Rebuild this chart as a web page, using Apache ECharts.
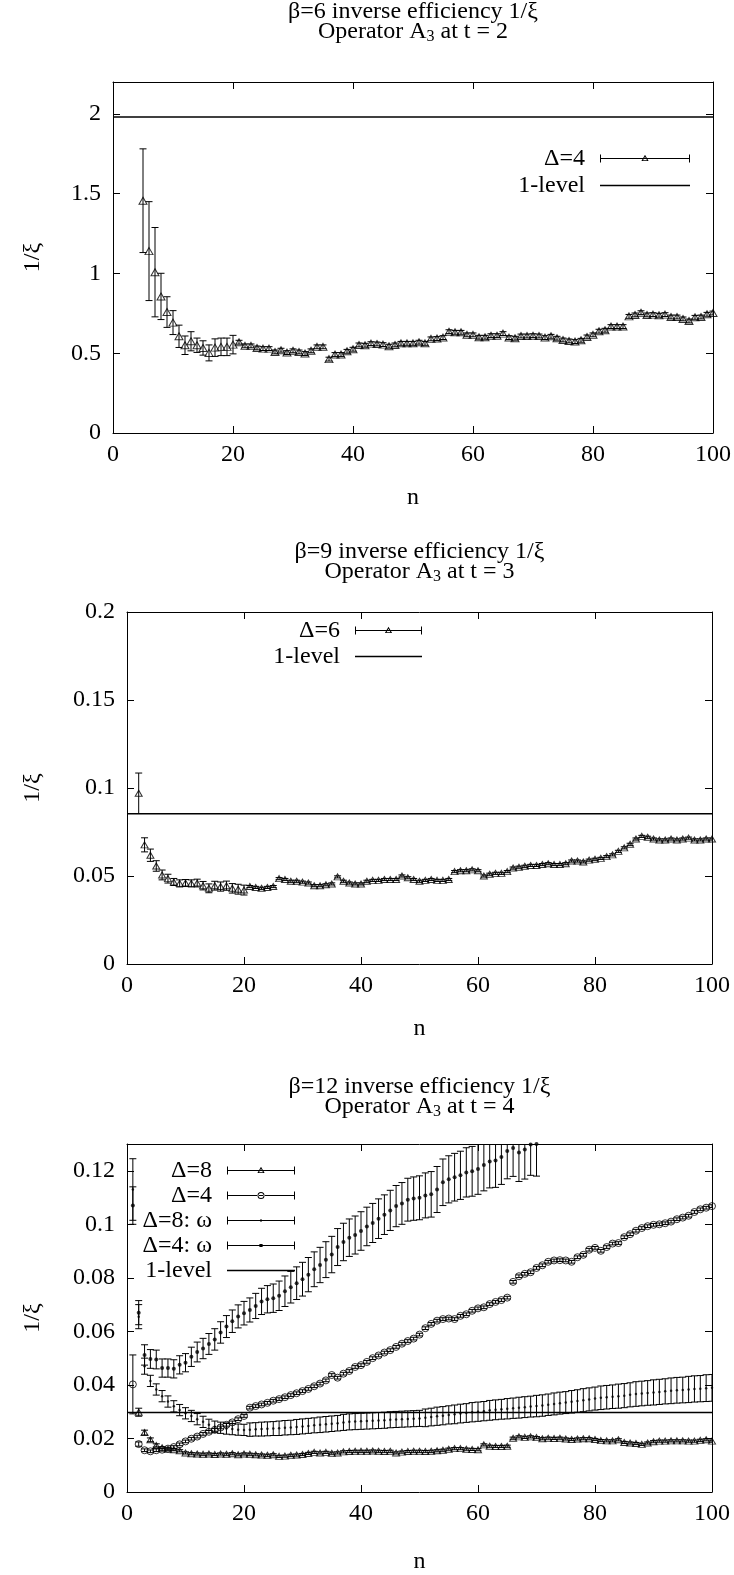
<!DOCTYPE html>
<html>
<head>
<meta charset="utf-8">
<script src="https://cdn.jsdelivr.net/npm/echarts@6/dist/echarts.min.js"></script>
<style>
  html, body { margin: 0; padding: 0; background: #fff; }
  #main { width: 734px; height: 1575px; }
</style>
</head>
<body>
<div id="main"></div>
<script>
const FONT = 'Liberation Serif';

// x axis (n) is the same on all three panels
const nMin = 0, nMax = 100, nStep = 20;

// ---- panel 1: beta=6, Delta=4, n = 5..100
const p1Start = 5;
const p1Vals = [1.456, 1.14, 1.008, 0.856, 0.758, 0.692, 0.606, 0.55, 0.575, 0.55,
  0.533, 0.502, 0.535, 0.54, 0.54, 0.554, 0.569, 0.546, 0.546, 0.533,
  0.529, 0.529, 0.508, 0.519, 0.504, 0.515, 0.508, 0.498, 0.515, 0.54,
  0.54, 0.463, 0.492, 0.492, 0.512, 0.525, 0.552, 0.55, 0.56, 0.558,
  0.554, 0.544, 0.552, 0.562, 0.562, 0.562, 0.569, 0.562, 0.59, 0.592,
  0.598, 0.635, 0.631, 0.631, 0.615, 0.615, 0.6, 0.6, 0.61, 0.61,
  0.623, 0.598, 0.594, 0.608, 0.608, 0.61, 0.608, 0.598, 0.606, 0.594,
  0.583, 0.577, 0.573, 0.581, 0.602, 0.615, 0.638, 0.644, 0.667, 0.667,
  0.667, 0.731, 0.74, 0.754, 0.74, 0.742, 0.738, 0.742, 0.727, 0.727,
  0.715, 0.702, 0.725, 0.727, 0.744, 0.752];
const p1Errs = [0.325, 0.31, 0.28, 0.145, 0.096, 0.075, 0.07, 0.058, 0.06, 0.045,
  0.045, 0.05, 0.055, 0.055, 0.055, 0.058, 0.012, 0.012, 0.012, 0.012,
  0.012, 0.012, 0.012, 0.012, 0.012, 0.012, 0.012, 0.012, 0.012, 0.012,
  0.012, 0.012, 0.012, 0.012, 0.012, 0.012, 0.012, 0.012, 0.012, 0.012,
  0.012, 0.012, 0.012, 0.012, 0.012, 0.012, 0.012, 0.012, 0.012, 0.012,
  0.012, 0.012, 0.012, 0.012, 0.012, 0.012, 0.012, 0.012, 0.012, 0.012,
  0.012, 0.012, 0.012, 0.012, 0.012, 0.012, 0.012, 0.012, 0.012, 0.012,
  0.012, 0.012, 0.012, 0.012, 0.012, 0.012, 0.012, 0.012, 0.012, 0.012,
  0.012, 0.012, 0.012, 0.012, 0.012, 0.012, 0.012, 0.012, 0.012, 0.012,
  0.012, 0.012, 0.012, 0.012, 0.012, 0.012];
const p1Level = 1.98;

// ---- panel 2: beta=9, Delta=6, n = 2..100
const p2Start = 2;
const p2Vals = [0.097, 0.0677, 0.0618, 0.0557, 0.0506, 0.0485, 0.0466, 0.0458, 0.046, 0.0458,
  0.046, 0.0445, 0.043, 0.0445, 0.044, 0.0445, 0.043, 0.0425, 0.042, 0.044,
  0.0435, 0.043, 0.0435, 0.044, 0.0485, 0.048, 0.047, 0.047, 0.0465, 0.046,
  0.0445, 0.0445, 0.045, 0.0455, 0.0495, 0.047, 0.046, 0.0455, 0.0455, 0.047,
  0.0475, 0.0475, 0.048, 0.048, 0.048, 0.05, 0.049, 0.048, 0.047, 0.0475,
  0.048, 0.0475, 0.0475, 0.048, 0.0525, 0.053, 0.053, 0.0535, 0.053, 0.05,
  0.051, 0.0515, 0.0515, 0.0525, 0.0545, 0.055, 0.0555, 0.056, 0.056, 0.0565,
  0.057, 0.0565, 0.0565, 0.057, 0.0585, 0.0585, 0.058, 0.059, 0.0595, 0.06,
  0.061, 0.062, 0.064, 0.066, 0.068, 0.071, 0.0725, 0.072, 0.071, 0.0705,
  0.0705, 0.071, 0.0705, 0.071, 0.0715, 0.0705, 0.0705, 0.071, 0.071];
const p2Errs = [0.0115, 0.004, 0.0035, 0.003, 0.0028, 0.0025, 0.002, 0.002, 0.002, 0.002,
  0.0022, 0.0024, 0.0025, 0.0025, 0.0026, 0.0026, 0.0027, 0.0028, 0.0028, 0.0006,
  0.0006, 0.0006, 0.0006, 0.0006, 0.0006, 0.0006, 0.0006, 0.0006, 0.0006, 0.0006,
  0.0006, 0.0006, 0.0006, 0.0006, 0.0006, 0.0006, 0.0006, 0.0006, 0.0006, 0.0006,
  0.0006, 0.0006, 0.0006, 0.0006, 0.0006, 0.0006, 0.0006, 0.0006, 0.0006, 0.0006,
  0.0006, 0.0006, 0.0006, 0.0006, 0.0006, 0.0006, 0.0006, 0.0006, 0.0006, 0.0006,
  0.0006, 0.0006, 0.0006, 0.0006, 0.0006, 0.0006, 0.0006, 0.0006, 0.0006, 0.0006,
  0.0006, 0.0006, 0.0006, 0.0006, 0.0006, 0.0006, 0.0006, 0.0006, 0.0006, 0.0006,
  0.0006, 0.0006, 0.0006, 0.0006, 0.0006, 0.0006, 0.0006, 0.0006, 0.0006, 0.0006,
  0.0006, 0.0006, 0.0006, 0.0006, 0.0006, 0.0006, 0.0006, 0.0006, 0.0006];
const p2Level = 0.0853;

// ---- panel 3: beta=12
// Delta=8, n = 2..100
const d8Start = 2;
const d8Vals = [0.0298, 0.0222, 0.0195, 0.0174, 0.0165, 0.016, 0.0158, 0.0154, 0.0146, 0.0143,
  0.0142, 0.0141, 0.0142, 0.014, 0.0142, 0.0141, 0.0143, 0.0139, 0.0142, 0.0141,
  0.0139, 0.0138, 0.0137, 0.0139, 0.0133, 0.0134, 0.0137, 0.0138, 0.014, 0.0144,
  0.0148, 0.0146, 0.0148, 0.0145, 0.0146, 0.015, 0.0151, 0.0152, 0.0152, 0.0152,
  0.0153, 0.0152, 0.0151, 0.0152, 0.0146, 0.0149, 0.0151, 0.0152, 0.0152, 0.0151,
  0.0152, 0.0154, 0.0156, 0.016, 0.0162, 0.0162, 0.016, 0.0159, 0.0158, 0.0176,
  0.0171, 0.017, 0.017, 0.0171, 0.0201, 0.0206, 0.0204, 0.0206, 0.0203, 0.0199,
  0.0201, 0.02, 0.0201, 0.0198, 0.0196, 0.0198, 0.0199, 0.0199, 0.0196, 0.0192,
  0.0191, 0.0191, 0.0195, 0.0185, 0.0183, 0.0181, 0.0178, 0.0183, 0.0188, 0.019,
  0.019, 0.0191, 0.0191, 0.0191, 0.019, 0.019, 0.0193, 0.0195, 0.019];
const d8Errs = [0.0015, 0.0009, 0.0007, 0.0006, 0.0004, 0.0004, 0.0004, 0.0004, 0.0004, 0.0004,
  0.0004, 0.0004, 0.0004, 0.0004, 0.0004, 0.0004, 0.0004, 0.0004, 0.0004, 0.0004,
  0.0004, 0.0004, 0.0004, 0.0004, 0.0004, 0.0004, 0.0004, 0.0004, 0.0004, 0.0004,
  0.0004, 0.0004, 0.0004, 0.0004, 0.0004, 0.0004, 0.0004, 0.0004, 0.0004, 0.0004,
  0.0004, 0.0004, 0.0004, 0.0004, 0.0004, 0.0004, 0.0004, 0.0004, 0.0004, 0.0004,
  0.0004, 0.0004, 0.0004, 0.0004, 0.0004, 0.0004, 0.0004, 0.0004, 0.0004, 0.0004,
  0.0004, 0.0004, 0.0004, 0.0004, 0.0004, 0.0004, 0.0004, 0.0004, 0.0004, 0.0004,
  0.0004, 0.0004, 0.0004, 0.0004, 0.0004, 0.0004, 0.0004, 0.0004, 0.0004, 0.0004,
  0.0004, 0.0004, 0.0004, 0.0004, 0.0004, 0.0004, 0.0004, 0.0004, 0.0004, 0.0004,
  0.0004, 0.0004, 0.0004, 0.0004, 0.0004, 0.0004, 0.0004, 0.0004, 0.0004];
// Delta=4, n = 1..100
const d4Start = 1;
const d4Vals = [0.0402, 0.0179, 0.0156, 0.0152, 0.0156, 0.0158, 0.0162, 0.0168, 0.0178, 0.0189,
  0.0199, 0.0207, 0.0217, 0.0225, 0.0232, 0.0241, 0.0251, 0.026, 0.0272, 0.0284,
  0.0315, 0.0321, 0.0327, 0.0333, 0.0341, 0.0347, 0.0354, 0.0362, 0.0369, 0.0377,
  0.0385, 0.0395, 0.0405, 0.0417, 0.0437, 0.0427, 0.0442, 0.0452, 0.0467, 0.0474,
  0.0486, 0.05, 0.051, 0.0521, 0.053, 0.0542, 0.0554, 0.0564, 0.0573, 0.0588,
  0.0612, 0.0628, 0.064, 0.0646, 0.0648, 0.0646, 0.0658, 0.0664, 0.0677, 0.0686,
  0.069, 0.0702, 0.071, 0.0717, 0.0726, 0.0785, 0.0806, 0.0815, 0.0821, 0.0837,
  0.0847, 0.086, 0.0865, 0.0866, 0.0865, 0.086, 0.0877, 0.0886, 0.0905, 0.0912,
  0.0901, 0.0915, 0.0928, 0.093, 0.0952, 0.0963, 0.0976, 0.0986, 0.0993, 0.0998,
  0.1, 0.1004, 0.101, 0.1019, 0.1025, 0.1032, 0.1046, 0.1056, 0.1062, 0.1068];
const d4Errs = [0.011, 0.0008, 0.0005, 0.0005, 0.0005, 0.0005, 0.0005, 0.0005, 0.0005, 0.0005,
  0.0005, 0.0005, 0.0005, 0.0005, 0.0005, 0.0005, 0.0005, 0.0005, 0.0005, 0.0005,
  0.0005, 0.0005, 0.0005, 0.0005, 0.0005, 0.0005, 0.0005, 0.0005, 0.0005, 0.0005,
  0.0005, 0.0005, 0.0005, 0.0005, 0.0005, 0.0005, 0.0005, 0.0005, 0.0005, 0.0005,
  0.0005, 0.0005, 0.0005, 0.0005, 0.0005, 0.0005, 0.0005, 0.0005, 0.0005, 0.0005,
  0.0005, 0.0005, 0.0005, 0.0005, 0.0005, 0.0005, 0.0005, 0.0005, 0.0005, 0.0005,
  0.0005, 0.0005, 0.0005, 0.0005, 0.0005, 0.0005, 0.0005, 0.0005, 0.0005, 0.0005,
  0.0005, 0.0005, 0.0005, 0.0005, 0.0005, 0.0005, 0.0005, 0.0005, 0.0005, 0.0005,
  0.0005, 0.0005, 0.0005, 0.0005, 0.0005, 0.0005, 0.0005, 0.0005, 0.0005, 0.0005,
  0.0005, 0.0005, 0.0005, 0.0005, 0.0005, 0.0005, 0.0005, 0.0005, 0.0005, 0.0005];
// Delta=8: omega, n = 1..100
const w8Start = 1;
const w8Vals = [0.113, 0.0655, 0.047, 0.0415, 0.0383, 0.0358, 0.0338, 0.032, 0.0306, 0.0294,
  0.0284, 0.0272, 0.0262, 0.0251, 0.0244, 0.024, 0.0237, 0.0235, 0.0233, 0.0232,
  0.0233, 0.0234, 0.0235, 0.0236, 0.0237, 0.0238, 0.024, 0.0241, 0.0243, 0.0245,
  0.0247, 0.0249, 0.0251, 0.0253, 0.0255, 0.0257, 0.026, 0.0262, 0.0263, 0.0264,
  0.0265, 0.0266, 0.0267, 0.0268, 0.027, 0.0271, 0.0272, 0.0273, 0.0274, 0.0275,
  0.0277, 0.028, 0.0283, 0.0285, 0.0288, 0.029, 0.0293, 0.0295, 0.0298, 0.03,
  0.0302, 0.0305, 0.0307, 0.0309, 0.0311, 0.0313, 0.0315, 0.0317, 0.0319, 0.0321,
  0.0323, 0.0326, 0.0329, 0.0332, 0.0334, 0.0337, 0.034, 0.0343, 0.0346, 0.0349,
  0.0352, 0.0354, 0.0356, 0.0358, 0.036, 0.0363, 0.0366, 0.0368, 0.037, 0.0372,
  0.0374, 0.0376, 0.0378, 0.038, 0.0381, 0.0383, 0.0385, 0.0386, 0.0388, 0.0389];
const w8Errs = [0.0115, 0.0045, 0.003, 0.0021, 0.0021, 0.0021, 0.0021, 0.0021, 0.0021, 0.0021,
  0.0021, 0.0021, 0.0021, 0.0021, 0.0021, 0.0021, 0.0021, 0.0021, 0.0021, 0.0021,
  0.0025, 0.0025, 0.0026, 0.0026, 0.0026, 0.0027, 0.0027, 0.0027, 0.0028, 0.0028,
  0.0028, 0.0028, 0.0029, 0.0029, 0.0029, 0.0029, 0.003, 0.003, 0.003, 0.003,
  0.003, 0.003, 0.003, 0.003, 0.003, 0.003, 0.003, 0.003, 0.003, 0.003,
  0.0033, 0.0033, 0.0034, 0.0034, 0.0034, 0.0035, 0.0035, 0.0035, 0.0036, 0.0036,
  0.0036, 0.0037, 0.0037, 0.0037, 0.0038, 0.0038, 0.0039, 0.0039, 0.0039, 0.004,
  0.004, 0.004, 0.0041, 0.0041, 0.0041, 0.0042, 0.0042, 0.0043, 0.0043, 0.0043,
  0.0044, 0.0044, 0.0044, 0.0045, 0.0045, 0.0045, 0.0046, 0.0046, 0.0046, 0.0047,
  0.0047, 0.0047, 0.0048, 0.0048, 0.0048, 0.0049, 0.0049, 0.0049, 0.005, 0.005];
// Delta=4: omega, n = 1..70
const w4Start = 1;
const w4Vals = [0.107, 0.067, 0.0512, 0.0497, 0.0495, 0.0463, 0.0463, 0.046, 0.0475, 0.0483,
  0.0505, 0.0523, 0.0536, 0.0553, 0.057, 0.0596, 0.0618, 0.0638, 0.0656, 0.0668,
  0.068, 0.0695, 0.0712, 0.072, 0.0724, 0.0733, 0.075, 0.0765, 0.078, 0.0795,
  0.0812, 0.0832, 0.0848, 0.0868, 0.0887, 0.0915, 0.0934, 0.095, 0.096, 0.0975,
  0.0992, 0.1005, 0.1021, 0.1036, 0.1052, 0.1068, 0.1078, 0.1092, 0.1096, 0.1099,
  0.1108, 0.1112, 0.113, 0.1157, 0.1168, 0.1176, 0.1183, 0.1194, 0.1198, 0.1207,
  0.1222, 0.1235, 0.1238, 0.1251, 0.1274, 0.1285, 0.1268, 0.1279, 0.1298, 0.13];
const w4Errs = [0.007, 0.0045, 0.0038, 0.0035, 0.0035, 0.0034, 0.0034, 0.0034, 0.0034, 0.0034,
  0.0036, 0.0037, 0.0038, 0.0039, 0.004, 0.004, 0.0041, 0.0042, 0.0043, 0.0044,
  0.0045, 0.0047, 0.0049, 0.0051, 0.0053, 0.0055, 0.0057, 0.0059, 0.0061, 0.0063,
  0.0064, 0.0065, 0.0066, 0.0067, 0.0068, 0.0069, 0.007, 0.007, 0.0071, 0.0072,
  0.0072, 0.0073, 0.0074, 0.0074, 0.0075, 0.0077, 0.0078, 0.008, 0.0081, 0.0082,
  0.0084, 0.0085, 0.0086, 0.0087, 0.0088, 0.0089, 0.009, 0.0092, 0.0093, 0.0095,
  0.0097, 0.0099, 0.01, 0.0102, 0.0104, 0.0106, 0.0108, 0.011, 0.0115, 0.012];
const p3Level = 0.0297;

// y ranges and tick steps: [min, max, step, show label at max]
const yRanges = [[0, 2.2, 0.5, false], [0, 0.2, 0.05, true], [0, 0.13, 0.02, false]];

const titles = [
  ['β=6 inverse efficiency 1/ξ', 'Operator A{s|3} at t = 2'],
  ['β=9 inverse efficiency 1/ξ', 'Operator A{s|3} at t = 3'],
  ['β=12 inverse efficiency 1/ξ', 'Operator A{s|3} at t = 4']
];

// ---------- layout ----------
const grids = [
  { left: 113, top: 82, width: 600, height: 351 },
  { left: 127, top: 612, width: 585, height: 352 },
  { left: 127, top: 1144, width: 585, height: 352 }
];
const titleTops = [2, 542, 1077];
const xNameGap = [53, 53, 58];
const yNameGap = [68, 82, 82];

const CAP = 3.5;

function pairs(start, vals, errs) {
  return vals.map((v, i) => [start + i, v, errs[i]]);
}

function errorBarItem(params, api) {
  const n = api.value(0), v = api.value(1), e = api.value(2);
  const hi = api.coord([n, v + e]);
  const lo = api.coord([n, v - e]);
  const st = { stroke: '#000', lineWidth: 1, fill: null };
  return {
    type: 'group',
    children: [
      { type: 'line', shape: { x1: hi[0], y1: hi[1], x2: lo[0], y2: lo[1] }, style: st },
      { type: 'line', shape: { x1: hi[0] - CAP, y1: hi[1], x2: hi[0] + CAP, y2: hi[1] }, style: st },
      { type: 'line', shape: { x1: lo[0] - CAP, y1: lo[1], x2: lo[0] + CAP, y2: lo[1] }, style: st }
    ]
  };
}

// legend sample: line with end caps and the point marker in the middle
function sampleIcon(w, kind) {
  if (kind === 'line') return 'path://M0 0H' + w + 'V1.5H0Z';
  const c = w / 2;
  let p = 'M0 3.5H' + w + 'V4.5H0Z M0 0H1V8H0Z M' + (w - 1) + ' 0H' + w + 'V8H' + (w - 1) + 'Z';
  if (kind === 'tri') {
    p += ' M' + c + ' 0.3L' + (c + 3.6) + ' 6.6L' + (c - 3.6) + ' 6.6Z';
    p += ' M' + c + ' 2.2L' + (c - 2.0) + ' 5.7L' + (c + 2.0) + ' 5.7Z';
  } else if (kind === 'circ') {
    p += ' M' + (c - 3.5) + ' 4A3.5 3.5 0 1 0 ' + (c + 3.5) + ' 4A3.5 3.5 0 1 0 ' + (c - 3.5) + ' 4Z';
    p += ' M' + (c - 2.5) + ' 4A2.5 2.5 0 1 1 ' + (c + 2.5) + ' 4A2.5 2.5 0 1 1 ' + (c - 2.5) + ' 4Z';
  } else if (kind === 'dot') {
    p += ' M' + (c - 1) + ' 3H' + (c + 1) + 'V5H' + (c - 1) + 'Z';
  } else if (kind === 'bigdot') {
    p += ' M' + (c - 1.6) + ' 2.4H' + (c + 1.6) + 'V5.6H' + (c - 1.6) + 'Z';
  }
  return 'path://' + p;
}

function legend(left, top, gap, w, items) {
  return {
    orient: 'vertical', left: left, top: top, padding: 0, itemGap: gap,
    itemWidth: w, itemHeight: 8, align: 'right', selectedMode: false,
    itemStyle: { color: '#000', borderWidth: 0 },
    formatter: '{a|{name}}',
    textStyle: {
      color: '#000', fontFamily: FONT, fontSize: 24, lineHeight: 25,
      rich: { a: { width: 100, align: 'right', padding: [0, 10, 0, 0], fontFamily: FONT, fontSize: 24, lineHeight: 25, color: '#000' } }
    },
    data: items.map(it => ({ name: it[0], icon: sampleIcon(w, it[1]) }))
  };
}

const xAxis = [], yAxis = [], title = [];
grids.forEach((g, i) => {
  ['bottom', 'top'].forEach(pos => {
    const main = pos === 'bottom';
    xAxis.push({
      type: 'value', gridIndex: i, position: pos, min: nMin, max: nMax, interval: nStep,
      axisLine: { show: true, onZero: false, lineStyle: { color: '#000', width: 1 } },
      axisTick: { show: true, inside: true, length: 7, lineStyle: { color: '#000' } },
      axisLabel: { show: main, color: '#000', fontFamily: FONT, fontSize: 24, margin: 10 },
      splitLine: { show: false },
      name: main ? 'n' : '', nameLocation: 'middle', nameGap: xNameGap[i],
      nameTextStyle: { color: '#000', fontFamily: FONT, fontSize: 24 }
    });
  });
  ['left', 'right'].forEach(pos => {
    const main = pos === 'left';
    const r = yRanges[i];
    yAxis.push({
      type: 'value', gridIndex: i, position: pos, min: r[0], max: r[1], interval: r[2],
      axisLine: { show: true, onZero: false, lineStyle: { color: '#000', width: 1 } },
      axisTick: { show: true, inside: true, length: 7, lineStyle: { color: '#000' } },
      axisLabel: { show: main, showMaxLabel: r[3], color: '#000', fontFamily: FONT, fontSize: 24, margin: 12 },
      splitLine: { show: false },
      name: main ? '1/ξ' : '', nameLocation: 'middle', nameRotate: 90, nameGap: yNameGap[i],
      nameTextStyle: { color: '#000', fontFamily: FONT, fontSize: 24 }
    });
  });
  title.push({
    text: titles[i][0] + '\n' + titles[i][1],
    left: g.left + g.width / 2, top: titleTops[i], textAlign: 'center', padding: 0,
    textStyle: {
      color: '#000', fontFamily: FONT, fontSize: 24, fontWeight: 'normal', lineHeight: 20,
      rich: { s: { color: '#000', fontFamily: FONT, fontSize: 16, lineHeight: 16, padding: [10, 0, 0, 0] } }
    }
  });
});

function errSeries(name, gi, data) {
  return { type: 'custom', name: name, xAxisIndex: gi * 2, yAxisIndex: gi * 2, data: data,
    encode: { x: 0, y: 1 }, renderItem: errorBarItem, clip: true, z: 2, silent: true,
    itemStyle: { color: '#000' } };
}
function pointSeries(name, gi, data, symbol, size, filled) {
  return { type: 'scatter', name: name, xAxisIndex: gi * 2, yAxisIndex: gi * 2, data: data,
    encode: { x: 0, y: 1 }, symbol: symbol, symbolSize: size, clip: true, z: 3, silent: true,
    itemStyle: filled ? { color: '#000' } : { color: 'rgba(0,0,0,0)', borderColor: '#000', borderWidth: 1 } };
}
function levelSeries(gi, level) {
  return { type: 'line', name: '1-level', xAxisIndex: gi * 2, yAxisIndex: gi * 2,
    data: [[nMin, level], [nMax, level]], symbol: 'none', z: 1, silent: true,
    lineStyle: { color: '#000', width: 1.5 }, itemStyle: { color: '#000' } };
}

const p1 = pairs(p1Start, p1Vals, p1Errs);
const p2 = pairs(p2Start, p2Vals, p2Errs);
const d8 = pairs(d8Start, d8Vals, d8Errs);
const d4 = pairs(d4Start, d4Vals, d4Errs);
const w8 = pairs(w8Start, w8Vals, w8Errs);
const w4 = pairs(w4Start, w4Vals, w4Errs);

const series = [
  errSeries('Δ=4', 0, p1), pointSeries('Δ=4', 0, p1, 'triangle', [8, 7], false), levelSeries(0, p1Level),
  errSeries('Δ=6', 1, p2), pointSeries('Δ=6', 1, p2, 'triangle', [7, 6], false), levelSeries(1, p2Level),
  errSeries('Δ=8', 2, d8), pointSeries('Δ=8', 2, d8, 'triangle', [7, 6], false),
  errSeries('Δ=4', 2, d4), pointSeries('Δ=4', 2, d4, 'circle', 7, false),
  errSeries('Δ=8: ω', 2, w8), pointSeries('Δ=8: ω', 2, w8, 'circle', 2.5, true),
  errSeries('Δ=4: ω', 2, w4), pointSeries('Δ=4: ω', 2, w4, 'circle', 4, true),
  levelSeries(2, p3Level)
];

const chart = echarts.init(document.getElementById('main'));
chart.setOption({
  animation: false,
  backgroundColor: '#fff',
  title: title,
  grid: grids,
  xAxis: xAxis,
  yAxis: yAxis,
  legend: [
    legend(485, 146, 2, 90, [['Δ=4', 'tri'], ['1-level', 'line']]),
    legend(240, 618, 1, 67, [['Δ=6', 'tri'], ['1-level', 'line']]),
    legend(112, 1158, 0, 68, [['Δ=8', 'tri'], ['Δ=4', 'circ'], ['Δ=8: ω', 'dot'], ['Δ=4: ω', 'bigdot'], ['1-level', 'line']])
  ],
  series: series
});
</script>
</body>
</html>
